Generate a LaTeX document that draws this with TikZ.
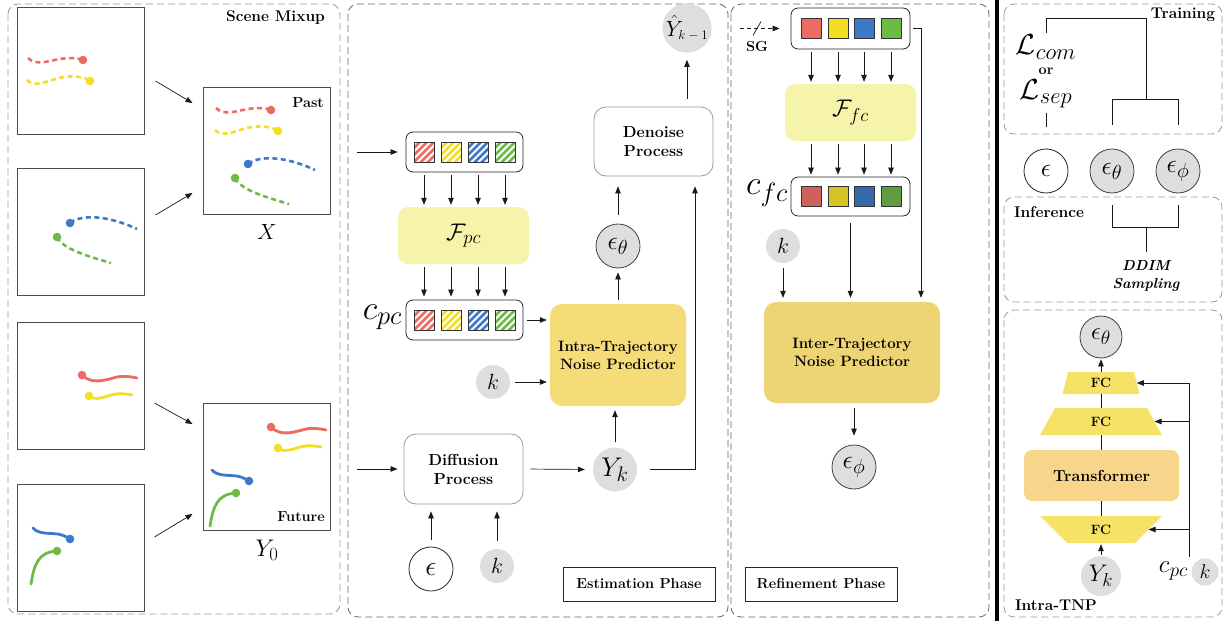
\documentclass[tikz,border=0pt]{standalone}
\usepackage{fix-cm}
\usepackage{amsmath}
\usetikzlibrary{arrows.meta,calc}
\renewcommand\defaultscriptratio{.78}
\definecolor{tred}{HTML}{EE6B63}
\definecolor{tyel}{HTML}{F3DE22}
\definecolor{tblue}{HTML}{3D79C9}
\definecolor{tgreen}{HTML}{6CBB45}
\definecolor{dred}{HTML}{D0605A}
\definecolor{dyel}{HTML}{D6C427}
\definecolor{dblue}{HTML}{356AAB}
\definecolor{dgreen}{HTML}{5E9E3E}
\definecolor{paleY}{HTML}{F6F4AA}
\definecolor{goldY}{HTML}{F5DC78}
\definecolor{goldY2}{HTML}{EDD474}
\definecolor{fcY}{HTML}{F6E266}
\definecolor{trY}{HTML}{F7D68B}
\definecolor{cgray}{HTML}{DEDEDE}
\newcommand\trajRY{%
  \draw[tred, pasttraj] (28,58) .. controls (36,66) and (48,61) .. (60,59) .. controls (70,57.5) and (78,58) .. (83,60);
  \fill[tred] (83,60) circle (4.3);
  \draw[tyel, pasttraj] (27,80) .. controls (35,89) and (50,79) .. (64,77) .. controls (75,75.5) and (85,77) .. (90,81);
  \fill[tyel] (90,81) circle (4.3);}
\newcommand\trajBG{%
  \draw[tblue, pasttraj] (70,223) .. controls (80,215) and (105,214) .. (137,229);
  \fill[tblue] (70,223) circle (4.3);
  \draw[tgreen, pasttraj] (57,237) .. controls (63,248) and (80,254) .. (111,263);
  \fill[tgreen] (57,237) circle (4.3);}
\newcommand\futRY{%
  \draw[tred, futtraj] (82,375) .. controls (92,385) and (105,380) .. (117,377) .. controls (125,375.5) and (132,377) .. (137,378);
  \fill[tred] (82,375) circle (4.3);
  \draw[tyel, futtraj] (89,396) .. controls (95,401) and (104,397) .. (113,394.5) .. controls (120,393) and (127,394) .. (132,395);
  \fill[tyel] (89,396) circle (4.3);}
\newcommand\futBG{%
  \draw[tblue, futtraj] (33,528) .. controls (38,534) and (48,533) .. (58,534) .. controls (63,535) and (67,537) .. (70,539);
  \fill[tblue] (70,539) circle (4.3);
  \draw[tgreen, futtraj] (31,584) .. controls (34,565) and (38,552) .. (57,551);
  \fill[tgreen] (57,551) circle (4.3);}
\tikzset{
  panel/.style={draw=black!40, dash pattern=on 7pt off 4pt, line width=0.8pt, rounded corners=10pt},
  scenebox/.style={draw=black!70, line width=1pt, minimum width=127pt, minimum height=127pt, inner sep=0pt},
  arr/.style={-{Triangle[length=7pt,width=5.5pt]}, line width=0.7pt, black!90},
  conn/.style={line width=0.7pt, black!90},
  blbl/.style={font=\fontsize{14.5}{18}\selectfont\bfseries, inner sep=0pt, align=center},
  tlbl/.style={font=\fontsize{15.5}{18}\selectfont\bfseries, inner sep=0pt, align=center},
  mlbl/.style={font=\fontsize{22}{22}\selectfont, inner sep=0pt},
  gcirc/.style={circle, fill=cgray, minimum size=44pt, inner sep=0pt, font=\fontsize{26}{26}\selectfont},
  gcircb/.style={gcirc, draw=black!75, line width=0.8pt},
  wcirc/.style={circle, fill=white, draw=black!85, line width=0.8pt, minimum size=44pt, inner sep=0pt, font=\fontsize{28}{28}\selectfont},
  kcirc/.style={circle, fill=cgray, minimum size=34pt, inner sep=0pt, font=\fontsize{22}{22}\selectfont},
  tokbox/.style={draw=black!85, line width=0.8pt, rounded corners=7pt, minimum width=117pt, minimum height=40pt, inner sep=0pt},
  hsq/.style={minimum size=20pt, inner sep=0pt, draw=black!80, line width=0.6pt, fill=white,
    path picture={\foreach \d in {-28,-21,...,28} \draw[#1, line width=2.6pt] ($(path picture bounding box.center)+(\d-14,14)$) -- ++(28,-28);}},
  ssq/.style={minimum size=20pt, inner sep=0pt, draw=black!80, line width=0.6pt, fill=#1},
  fbox/.style={fill=paleY, rounded corners=10pt, minimum width=131pt, minimum height=57pt, inner sep=0pt, font=\fontsize{24}{24}\selectfont},
  procbox/.style={draw=black!40, line width=0.8pt, rounded corners=12pt, fill=white, inner sep=0pt, align=center, font=\fontsize{16}{19}\selectfont\bfseries},
  predbox/.style={rounded corners=12pt, inner sep=0pt, align=center, font=\fontsize{15}{18}\selectfont\bfseries},
  phasebox/.style={draw=black!85, line width=0.8pt, minimum width=152pt, minimum height=34pt, inner sep=0pt, font=\fontsize{14.5}{17}\selectfont\bfseries},
  pasttraj/.style={line width=2.6pt, dash pattern=on 5pt off 3.5pt},
  futtraj/.style={line width=2.8pt, line cap=round},
}
\begin{document}
\begin{tikzpicture}[x=1pt,y=-1pt]
\useasboundingbox (0,0) rectangle (1224,621);
% ================= Scene Mixup =================
\draw[panel] (8,4) rectangle (340,614);
\node[tlbl] (smix) at (275.5,18) {Scene Mixup};
\node[scenebox] (s1) at (80.5,70.5) {};
\node[scenebox] (s2) at (80.5,231.5) {};
\node[scenebox] (sp) at (266.5,151) {};
\node[scenebox] (s3) at (80.5,385.5) {};
\node[scenebox] (s4) at (80.5,547.5) {};
\node[scenebox] (sf) at (266.5,467) {};
\trajRY
\trajBG
\begin{scope}[shift={(188,50)}]\trajRY\end{scope}
\begin{scope}[shift={(178,-59)}]\trajBG\end{scope}
\futRY
\futBG
\begin{scope}[shift={(189,52)}]\futRY\end{scope}
\begin{scope}[shift={(179,-58)}]\futBG\end{scope}
\node[blbl, anchor=east] (pastl) at (324,103) {Past};
\node[blbl, anchor=east] (futl) at (325,517) {Future};
\node[mlbl] (xl) at (267,232) {$X$};
\node[mlbl, font=\fontsize{24}{24}\selectfont] (y0l) at (267,550) {$Y_0$};
\draw[arr] ($(s1.east)+(11,10.5)$) -- ($(sp.west)+(-10,-48)$);
\draw[arr] ($(s2.east)+(11,-16.5)$) -- ($(sp.west)+(-10,42)$);
\draw[arr] ($(s3.east)+(10,17.5)$) -- ($(sf.west)+(-10,-43)$);
\draw[arr] ($(s4.east)+(10,-10.5)$) -- ($(sf.west)+(-10,47)$);
% ================= Estimation Phase =================
\draw[panel, draw=black!60] (348,4) rectangle (728,617);
\coordinate (xin) at (357,152);
\coordinate (yin) at (357,469);
\node[tokbox] (pcbox) at (464.5,152) {};
\node[hsq=tred] (p1) at (424,152) {};
\node[hsq=tyel] (p2) at (451,152) {};
\node[hsq=tblue] (p3) at (478,152) {};
\node[hsq=tgreen] (p4) at (505,152) {};
\node[fbox] (Fpc) at (463.5,235.5) {$\mathcal{F}_{pc}$};
\node[tokbox] (cpcbox) at (464.5,320) {};
\node[hsq=tred] (q1) at (424,320) {};
\node[hsq=tyel] (q2) at (451,320) {};
\node[hsq=tblue] (q3) at (478,320) {};
\node[hsq=tgreen] (q4) at (505,320) {};
\node[mlbl, anchor=east, font=\fontsize{34}{34}\selectfont] (cpcl) at (402,317) {$c_{pc}$};
\node[predbox, fill=goldY, minimum width=136pt, minimum height=102pt] (intra) at (618,355) {Intra-Trajectory\\Noise Predictor};
\node[kcirc] (k1) at (493,382) {$k$};
\node[procbox, minimum width=119pt, minimum height=70pt] (diff) at (463.5,469) {Diffusion\\Process};
\node[gcirc, font=\fontsize{27}{27}\selectfont] (yk) at (615,469.5) {$Y_k$};
\node[gcircb] (epsth) at (618,246) {$\epsilon_\theta$};
\node[procbox, minimum width=119pt, minimum height=69pt] (denoise) at (653.5,141.5) {Denoise\\Process};
\node[gcirc, font=\fontsize{22}{22}\selectfont] (yhat) at (687,28) {$\hat{Y}_{\text{\fontsize{13}{13}\selectfont$k-1$}}$};
\node[wcirc] (eps1) at (431,569) {$\epsilon$};
\node[kcirc] (k2) at (497,566) {$k$};
\node[phasebox] (estph) at (639,584) {Estimation Phase};
\coordinate (dnin) at ($(denoise.south)+(41.5,0)$);
\draw[arr, shorten >=8pt] (xin) -- (pcbox.west);
\foreach \i in {1,...,4} {
  \draw[arr, shorten <=3pt, shorten >=2pt] (p\i.center |- pcbox.south) -- (p\i.center |- Fpc.north);
  \draw[arr, shorten <=3pt, shorten >=3pt] (q\i.center |- Fpc.south) -- (q\i.center |- cpcbox.north);
}
\draw[arr, shorten <=4pt, shorten >=3pt] (cpcbox.east) -- (cpcbox.east -| intra.west);
\draw[arr, shorten <=5pt, shorten >=3pt] (k1.east) -- (k1.east -| intra.west);
\draw[arr, shorten >=6pt] (yin) -- (diff.west);
\draw[arr, shorten <=7pt, shorten >=8pt] (diff.east) -- (yk.west);
\draw[arr, shorten <=5pt, shorten >=4pt] (yk.north) -- (yk.north |- intra.south);
\draw[arr, shorten <=13pt, shorten >=10pt] (yk.east) -| (dnin);
\draw[arr, shorten <=4pt, shorten >=4pt] (intra.north) -- (epsth.south);
\draw[arr, shorten <=9pt, shorten >=10pt] (epsth.north) -- (epsth.north |- denoise.south);
\draw[arr, shorten <=8pt, shorten >=7pt] (denoise.north -| yhat) -- (yhat.south);
\draw[arr, shorten <=7pt, shorten >=7pt] (eps1.north) -- (eps1.north |- diff.south);
\draw[arr, shorten <=8pt, shorten >=7pt] (k2.north) -- (k2.north |- diff.south);
% ================= Refinement Phase =================
\draw[panel, draw=black!60] (731,4) rectangle (989,617);
\node[tokbox, minimum width=119pt, minimum height=41pt] (fbx) at (850.5,28.5) {};
\node[ssq=tred] (f1) at (811,28.5) {};
\node[ssq=tyel] (f2) at (838,28.5) {};
\node[ssq=tblue] (f3) at (864,28.5) {};
\node[ssq=tgreen] (f4) at (891,28.5) {};
\node[fbox] (Ffc) at (850.5,112.5) {$\mathcal{F}_{fc}$};
\node[tokbox, minimum width=119pt, minimum height=39pt] (cfcbox) at (850.5,196.5) {};
\node[ssq=dred] (g1) at (811,196.5) {};
\node[ssq=dyel] (g2) at (838,196.5) {};
\node[ssq=dblue] (g3) at (864,196.5) {};
\node[ssq=dgreen] (g4) at (891,196.5) {};
\node[mlbl, anchor=east, font=\fontsize{34}{34}\selectfont] (cfcl) at (788,193) {$c_{fc}$};
\node[kcirc] (k3) at (783,246) {$k$};
\node[predbox, fill=goldY2, minimum width=176pt, minimum height=101pt] (inter) at (852,352.5) {Inter-Trajectory\\Noise Predictor};
\node[gcircb] (epsphi) at (854,467) {$\epsilon_\phi$};
\node[phasebox] (refph) at (821,584) {Refinement Phase};
\coordinate (sgin) at (740,28.5);
\node[blbl] (sgl) at (757,47) {SG};
\draw[arr, dash pattern=on 4pt off 3pt, shorten >=11pt] (sgin) -- (fbx.west);
\draw[conn] ($(sgin)+(13,7)$) -- ($(sgin)+(21,-7)$);
\foreach \i in {1,...,4} {
  \draw[arr, shorten <=3pt, shorten >=2pt] (f\i.center |- fbx.south) -- (f\i.center |- Ffc.north);
  \draw[arr, shorten <=3pt, shorten >=2pt] (g\i.center |- Ffc.south) -- (g\i.center |- cfcbox.north);
}
\coordinate (intin) at ($(inter.north)+(69,0)$);
\draw[arr, shorten <=3pt, shorten >=4pt] (fbx.east) -| (intin);
\draw[arr, shorten <=7pt, shorten >=4pt] (cfcbox.south) -- (cfcbox.south |- inter.north);
\draw[arr, shorten <=5pt, shorten >=4pt] (k3.south) -- (k3.south |- inter.north);
\draw[arr, shorten <=5pt, shorten >=9pt] (inter.south -| epsphi) -- (epsphi.north);
% ================= divider =================
\draw[line width=4.5pt] (997,0) -- (997,621);
% ================= Training / Inference =================
\draw[panel] (1004,4) rectangle (1222,134);
\draw[panel] (1004,197) rectangle (1222,302);
\node[tlbl] (trl) at (1183,15) {Training};
\node[mlbl, font=\fontsize{29}{29}\selectfont] (lcom) at (1046,47) {$\mathcal{L}_{com}$};
\node[blbl] (orl) at (1046,71) {or};
\node[mlbl, font=\fontsize{29}{29}\selectfont] (lsep) at (1046,94) {$\mathcal{L}_{sep}$};
\node[wcirc, font=\fontsize{26}{26}\selectfont] (eps2) at (1046,171) {$\epsilon$};
\node[gcircb] (eth2) at (1112,171) {$\epsilon_\theta$};
\node[gcircb] (eph2) at (1178,171) {$\epsilon_\phi$};
\coordinate (ttop) at (1146,18);
\coordinate (tj) at (1146,100);
\draw[conn] ($(lcom)+(0,-14)$) |- (ttop) -- (tj);
\draw[conn] ($(eth2.north)+(0,-24)$) |- ($(eph2.north)+(0,-49)$) -- ($(eph2.north)+(0,-24)$);
\draw[conn] ($(eps2.north)+(0,-36)$) -- ($(eps2.north)+(0,-22)$);
\node[tlbl] (infl) at (1049,212) {Inference};
\coordinate (ij) at (1146,227);
\draw[conn] ($(eth2.south)+(0,12)$) |- ($(eph2.south)+(0,34)$) -- ($(eph2.south)+(0,12)$);
\node[blbl, font=\fontsize{14.5}{18}\selectfont\bfseries\itshape] (ddim) at (1146,276) {DDIM\\Sampling};
\draw[conn] (ij) -- ($(ij)+(0,25)$);
% ================= Intra-TNP =================
\draw[panel] (1004,310) rectangle (1222,617);
\node[tlbl] (itnp) at (1056,605) {Intra-TNP};
\node[gcircb, minimum size=42pt, font=\fontsize{25}{25}\selectfont] (eth3) at (1101,337) {$\epsilon_\theta$};
\fill[fcY] (1068,372) -- (1134,372) -- (1139.5,394) -- (1062.5,394) -- cycle;
\fill[fcY] (1055,408) -- (1147,408) -- (1162,435) -- (1040,435) -- cycle;
\fill[fcY] (1040,516) -- (1162,516) -- (1135,543) -- (1067,543) -- cycle;
\coordinate (fc1r) at ($(1134,372)!0.5!(1139.5,394)$);
\coordinate (fc2r) at ($(1147,408)!0.5!(1162,435)$);
\coordinate (fc3r) at ($(1162,516)!0.5!(1135,543)$);
\node[blbl, font=\fontsize{13.5}{13.5}\selectfont\bfseries, minimum height=22pt] (fc1) at (1101,383) {FC};
\node[blbl, font=\fontsize{13.5}{13.5}\selectfont\bfseries, minimum height=27pt] (fc2) at (1101,421.5) {FC};
\node[predbox, fill=trY, rounded corners=8pt, minimum width=155pt, minimum height=51pt, font=\fontsize{16}{16}\selectfont\bfseries] (trf) at (1101.5,475.5) {Transformer};
\node[blbl, font=\fontsize{13.5}{13.5}\selectfont\bfseries, minimum height=27pt] (fc3) at (1101,529.5) {FC};
\node[gcirc, minimum size=40pt, font=\fontsize{24}{24}\selectfont] (yk3) at (1101,576) {$Y_k$};
\node[kcirc, minimum size=27pt, font=\fontsize{20}{20}\selectfont] (k4) at (1205,572) {$k$};
\node[mlbl, anchor=east, font=\fontsize{25}{25}\selectfont] (cpc3) at (1188,571) {$c_{pc}$};
\draw[conn] (fc1.south) -- (fc2.north);
\draw[conn] (fc2.south) -- (fc2.south |- trf.north);
\draw[conn] (trf.south -| fc3) -- (fc3.north);
\draw[arr, shorten >=1pt] (fc1.north) -- (eth3.south);
\draw[arr, shorten <=1pt, shorten >=1pt] (yk3.north) -- (fc3.south);
\coordinate (sb) at (1189,557);
\draw[conn] (sb) -- (sb |- fc1r);
\draw[arr] (sb |- fc1r) -- (fc1r);
\draw[arr] (sb |- fc2r) -- (fc2r);
\draw[arr] (sb |- fc3r) -- (fc3r);
\end{tikzpicture}
\end{document}
